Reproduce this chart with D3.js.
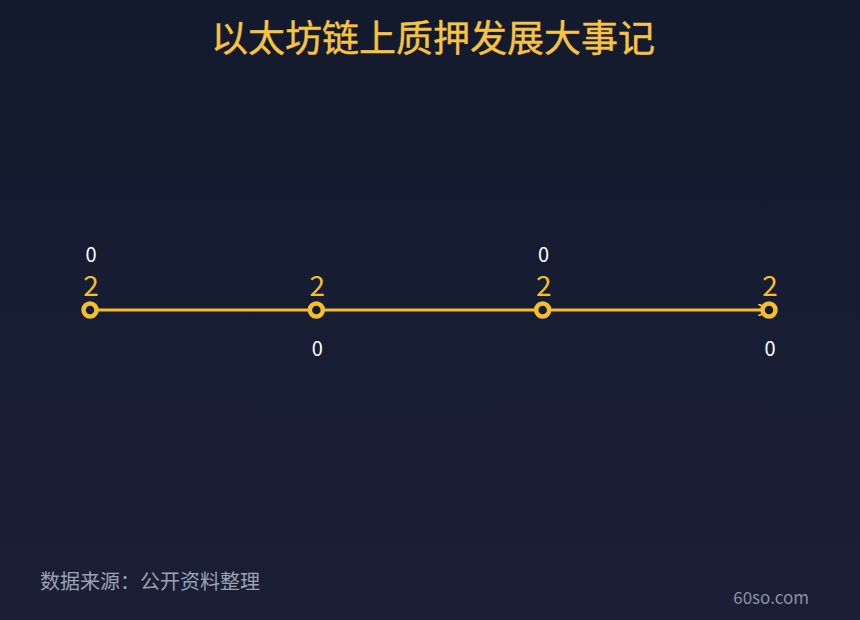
<!DOCTYPE html>
<html>
<head>
<meta charset="utf-8">
<script src="https://cdn.jsdelivr.net/npm/d3@7"></script>
<style>
  html, body { margin: 0; padding: 0; background: #161c31; }
  svg { display: block; }
</style>
</head>
<body>
<script>
const WIDTH = 860;
const HEIGHT = 620;

// Timeline data
const events = ["事件1", "事件2", "事件3", "事件4"];
const values = [2, 2, 2, 2];
const notes = ["0", "0", "0", "0"];
const notePos = ["top", "bottom", "top", "bottom"];

const TITLE = "以太坊链上质押发展大事记";
const SOURCE = "数据来源：公开资料整理";
const BRAND = "60so.com";

const YELLOW = "#f7be2c";
const FONT = "'Noto Sans CJK SC', 'Noto Sans', sans-serif";

const svg = d3.select("body").append("svg")
    .attr("width", WIDTH)
    .attr("height", HEIGHT);

// Background gradient
const defs = svg.append("defs");
const grad = defs.append("linearGradient")
    .attr("id", "bg")
    .attr("x1", 0).attr("y1", 0).attr("x2", 0).attr("y2", 1);
grad.append("stop").attr("offset", "0%").attr("stop-color", "#131a2e");
grad.append("stop").attr("offset", "100%").attr("stop-color", "#1a1f35");

defs.append("marker")
    .attr("id", "arrow")
    .attr("viewBox", "0 0 10 10")
    .attr("refX", 9).attr("refY", 5)
    .attr("markerWidth", 4).attr("markerHeight", 4)
    .attr("orient", "auto")
    .append("path")
    .attr("d", "M0,0 L10,5 L0,10")
    .attr("fill", "none")
    .attr("stroke", YELLOW)
    .attr("stroke-width", 1.5);

svg.append("rect")
    .attr("width", WIDTH)
    .attr("height", HEIGHT)
    .attr("fill", "url(#bg)");

// Title
svg.append("text")
    .attr("x", WIDTH / 2 + 3)
    .attr("y", 52)
    .attr("text-anchor", "middle")
    .attr("fill", "#f6c343")
    .attr("stroke", "#f6c343")
    .attr("stroke-width", 0.4)
    .style("font-family", FONT)
    .style("font-size", "37px")
    .text(TITLE);

// Scales
const x = d3.scalePoint()
    .domain(events)
    .range([90, 769]);

const lineY = 310;

const g = svg.append("g");

// Main line
g.append("line")
    .attr("x1", x(events[0]))
    .attr("x2", x(events[events.length - 1]))
    .attr("y1", lineY)
    .attr("y2", lineY)
    .attr("stroke", YELLOW)
    .attr("stroke-width", 3)
    .attr("marker-end", "url(#arrow)");

// Points
g.selectAll("circle.pt")
    .data(events)
    .enter()
    .append("circle")
    .attr("class", "pt")
    .attr("cx", d => x(d))
    .attr("cy", lineY)
    .attr("r", 6.5)
    .attr("fill", "#141b2f")
    .attr("stroke", YELLOW)
    .attr("stroke-width", 4.5);

// Value labels
g.selectAll("text.val")
    .data(events)
    .enter()
    .append("text")
    .attr("class", "val")
    .attr("x", d => x(d) + 1)
    .attr("y", 296)
    .attr("text-anchor", "middle")
    .attr("fill", YELLOW)
    .style("font-family", FONT)
    .style("font-size", "28px")
    .text((d, i) => values[i]);

// Note labels, alternating above / below
g.selectAll("text.note")
    .data(events)
    .enter()
    .append("text")
    .attr("class", "note")
    .attr("x", d => x(d) + 1)
    .attr("y", (d, i) => notePos[i] === "top" ? 262 : 356)
    .attr("text-anchor", "middle")
    .attr("fill", "#ffffff")
    .style("font-family", FONT)
    .style("font-size", "20px")
    .text((d, i) => notes[i]);

// Footer
svg.append("text")
    .attr("x", 40)
    .attr("y", 589)
    .attr("fill", "#9aa2b3")
    .style("font-family", FONT)
    .style("font-size", "20px")
    .text(SOURCE);

svg.append("text")
    .attr("x", 809)
    .attr("y", 604)
    .attr("text-anchor", "end")
    .attr("fill", "#8a92a4")
    .style("font-family", FONT)
    .style("font-size", "17px")
    .text(BRAND);
</script>
</body>
</html>
